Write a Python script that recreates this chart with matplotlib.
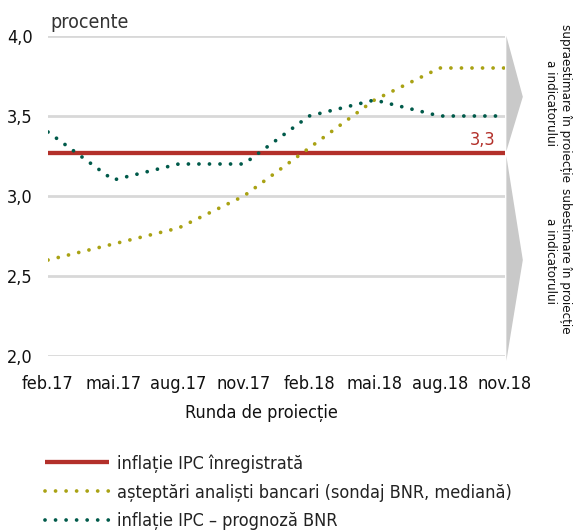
import matplotlib
matplotlib.use("Agg")
import matplotlib.pyplot as plt
from matplotlib.patches import Polygon
import matplotlib.transforms as mtransforms
from matplotlib import font_manager as fm

categories = ["feb.17", "mai.17", "aug.17", "nov.17", "feb.18", "mai.18", "aug.18", "nov.18"]
inflatie_inregistrata = [3.27] * 8
asteptari_analisti = [2.6, 2.7, 2.8, 3.0, 3.3, 3.6, 3.8, 3.8]
prognoza_bnr = [3.4, 3.1, 3.2, 3.2, 3.5, 3.6, 3.5, 3.5]
yticks = [2.0, 2.5, 3.0, 3.5, 4.0]
ytick_labels = ["2,0", "2,5", "3,0", "3,5", "4,0"]

names = {f.name for f in fm.fontManager.ttflist}
if "Liberation Sans Narrow" in names:
    plt.rcParams["font.family"] = ["Liberation Sans Narrow", "DejaVu Sans"]
else:
    plt.rcParams["font.family"] = ["DejaVu Sans"]
    plt.rcParams["font.stretch"] = "condensed"

RED = "#b3302a"
YEL = "#a9a214"
GRN = "#005a4a"

fig = plt.figure(figsize=(5.78, 5.32), dpi=100)
ax = fig.add_axes([48/578, 1-356/532, (505-48)/578, (356-36)/532])

x = list(range(len(categories)))
ax.plot(x, inflatie_inregistrata, color=RED, lw=3.1, solid_capstyle="butt",
        label="inflație IPC înregistrată", zorder=3)
ax.plot(x, asteptari_analisti, color=YEL, lw=2.7, linestyle=(0, (0.01, 2.8)),
        dash_capstyle="round", label="așteptări analiști bancari (sondaj BNR, mediană)", zorder=4)
ax.plot(x, prognoza_bnr, color=GRN, lw=2.7, linestyle=(0, (0.01, 2.8)),
        dash_capstyle="round", label="inflație IPC – prognoză BNR", zorder=5)

ax.set_xlim(0, len(categories) - 1)
ax.set_ylim(2.0, 4.0)
ax.set_yticks(yticks)
ax.set_yticklabels(ytick_labels)
ax.set_xticks(x)
ax.set_xticklabels(categories)
ax.tick_params(axis="both", length=0, labelsize=13, colors="#111111")
ax.tick_params(axis="y", pad=11)
ax.tick_params(axis="x", pad=14)
for s in ax.spines.values():
    s.set_visible(False)
ax.grid(axis="y", color="#d8d8d8", lw=2)
ax.set_axisbelow(True)

ax.set_xlabel("Runda de proiecție", fontsize=13, color="#111111")
ax.xaxis.set_label_coords((261-48)/457, -0.15)

fig.text(50/578, 1-22/532, "procente", fontsize=14, color="#333333", va="center", ha="left")

ax.text(len(categories) - 1 - 0.15, inflatie_inregistrata[-1] + 0.025, "3,3",
        color=RED, fontsize=13, ha="right", va="bottom")

# grey arrows on the right
trans = mtransforms.blended_transform_factory(ax.transAxes, ax.transData)
up = Polygon([(1.003, 4.0), (1.039, 3.62), (1.003, 3.28)], closed=True,
             facecolor="#c9c9c9", edgecolor="none", transform=trans, clip_on=False)
dn = Polygon([(1.003, 3.25), (1.039, 2.6), (1.003, 1.97)], closed=True,
             facecolor="#c9c9c9", edgecolor="none", transform=trans, clip_on=False)
ax.add_patch(up)
ax.add_patch(dn)

fig.text(558/578, 1-103/532, "supraestimare în proiecție\na indicatorului", rotation=-90,
         ha="center", va="center", multialignment="center", fontsize=9.5, color="#111111",
         linespacing=1.2)
fig.text(558/578, 1-261/532, "subestimare în proiecție\na indicatorului", rotation=-90,
         ha="center", va="center", multialignment="center", fontsize=9.5, color="#111111",
         linespacing=1.2)

handles, labels = ax.get_legend_handles_labels()
leg = fig.legend(handles, labels, loc="upper left", bbox_to_anchor=(38/578, 1-447/532),
                 frameon=False, fontsize=13, handlelength=3.55, handletextpad=0.45,
                 labelspacing=0.6, borderaxespad=0)
for t in leg.get_texts():
    t.set_color("#222222")

fig.savefig("out.png", dpi=100)
